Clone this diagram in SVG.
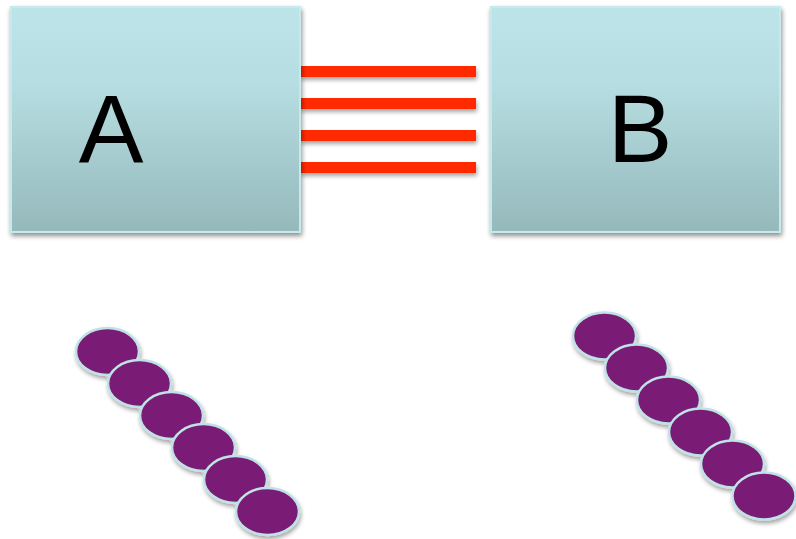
<svg xmlns="http://www.w3.org/2000/svg" width="796" height="539" viewBox="0 0 796 539">
<defs>
<linearGradient id="boxGrad" x1="0" y1="0" x2="0" y2="1">
<stop offset="0" stop-color="#BDE4E8"/>
<stop offset="0.35" stop-color="#B6DDE1"/>
<stop offset="1" stop-color="#95B9BB"/>
</linearGradient>
<filter id="shadow" x="-10%" y="-10%" width="125%" height="130%">
<feGaussianBlur in="SourceAlpha" stdDeviation="2.5"/>
<feOffset dx="1" dy="3" result="b"/>
<feComponentTransfer><feFuncA type="linear" slope="0.45"/></feComponentTransfer>
<feMerge><feMergeNode/><feMergeNode in="SourceGraphic"/></feMerge>
</filter>
<filter id="shadowSmall" x="-20%" y="-20%" width="140%" height="160%">
<feGaussianBlur in="SourceAlpha" stdDeviation="2"/>
<feOffset dx="1" dy="3" result="b"/>
<feComponentTransfer><feFuncA type="linear" slope="0.35"/></feComponentTransfer>
<feMerge><feMergeNode/><feMergeNode in="SourceGraphic"/></feMerge>
</filter>
</defs>
<style>
.box{fill:url(#boxGrad);stroke:#C9E8EC;stroke-width:2}
.lbl{font-family:"Liberation Sans",Arial,sans-serif;font-size:97px;fill:#000;text-anchor:middle}
.bar{fill:#FF2A00}
.bead{fill:#7A1A74;stroke:#BFE2E6;stroke-width:2.5}
</style>
<rect width="796" height="539" fill="#FFFFFF"/>
<g id="connectors" filter="url(#shadowSmall)">
<rect class="bar" x="300" y="66" width="176" height="11"/>
<rect class="bar" x="300" y="98" width="176" height="11"/>
<rect class="bar" x="300" y="130" width="176" height="11"/>
<rect class="bar" x="300" y="162" width="176" height="11"/>
</g>
<g id="nodeA" filter="url(#shadow)">
<rect class="box" x="11" y="7" width="289" height="225"/>
<text class="lbl" x="111" y="162">A</text>
</g>
<g id="nodeB" filter="url(#shadow)">
<rect class="box" x="491" y="7" width="289" height="225"/>
<text class="lbl" x="640" y="162">B</text>
</g>
<g id="chainLeft" filter="url(#shadowSmall)">
<ellipse class="bead" cx="107.5" cy="351.5" rx="31.5" ry="23.5"/>
<ellipse class="bead" cx="139.5" cy="383.5" rx="31.5" ry="23.5"/>
<ellipse class="bead" cx="171.5" cy="415.5" rx="31.5" ry="23.5"/>
<ellipse class="bead" cx="203.5" cy="447.5" rx="31.5" ry="23.5"/>
<ellipse class="bead" cx="235.5" cy="479.5" rx="31.5" ry="23.5"/>
<ellipse class="bead" cx="267.5" cy="511.5" rx="31.5" ry="23.5"/>
</g>
<g id="chainRight" filter="url(#shadowSmall)">
<ellipse class="bead" cx="604.5" cy="336" rx="31.5" ry="23.5"/>
<ellipse class="bead" cx="636.5" cy="368" rx="31.5" ry="23.5"/>
<ellipse class="bead" cx="668.5" cy="400" rx="31.5" ry="23.5"/>
<ellipse class="bead" cx="700.5" cy="432" rx="31.5" ry="23.5"/>
<ellipse class="bead" cx="732.5" cy="464" rx="31.5" ry="23.5"/>
<ellipse class="bead" cx="764" cy="496" rx="31.5" ry="23.5"/>
</g>
</svg>
